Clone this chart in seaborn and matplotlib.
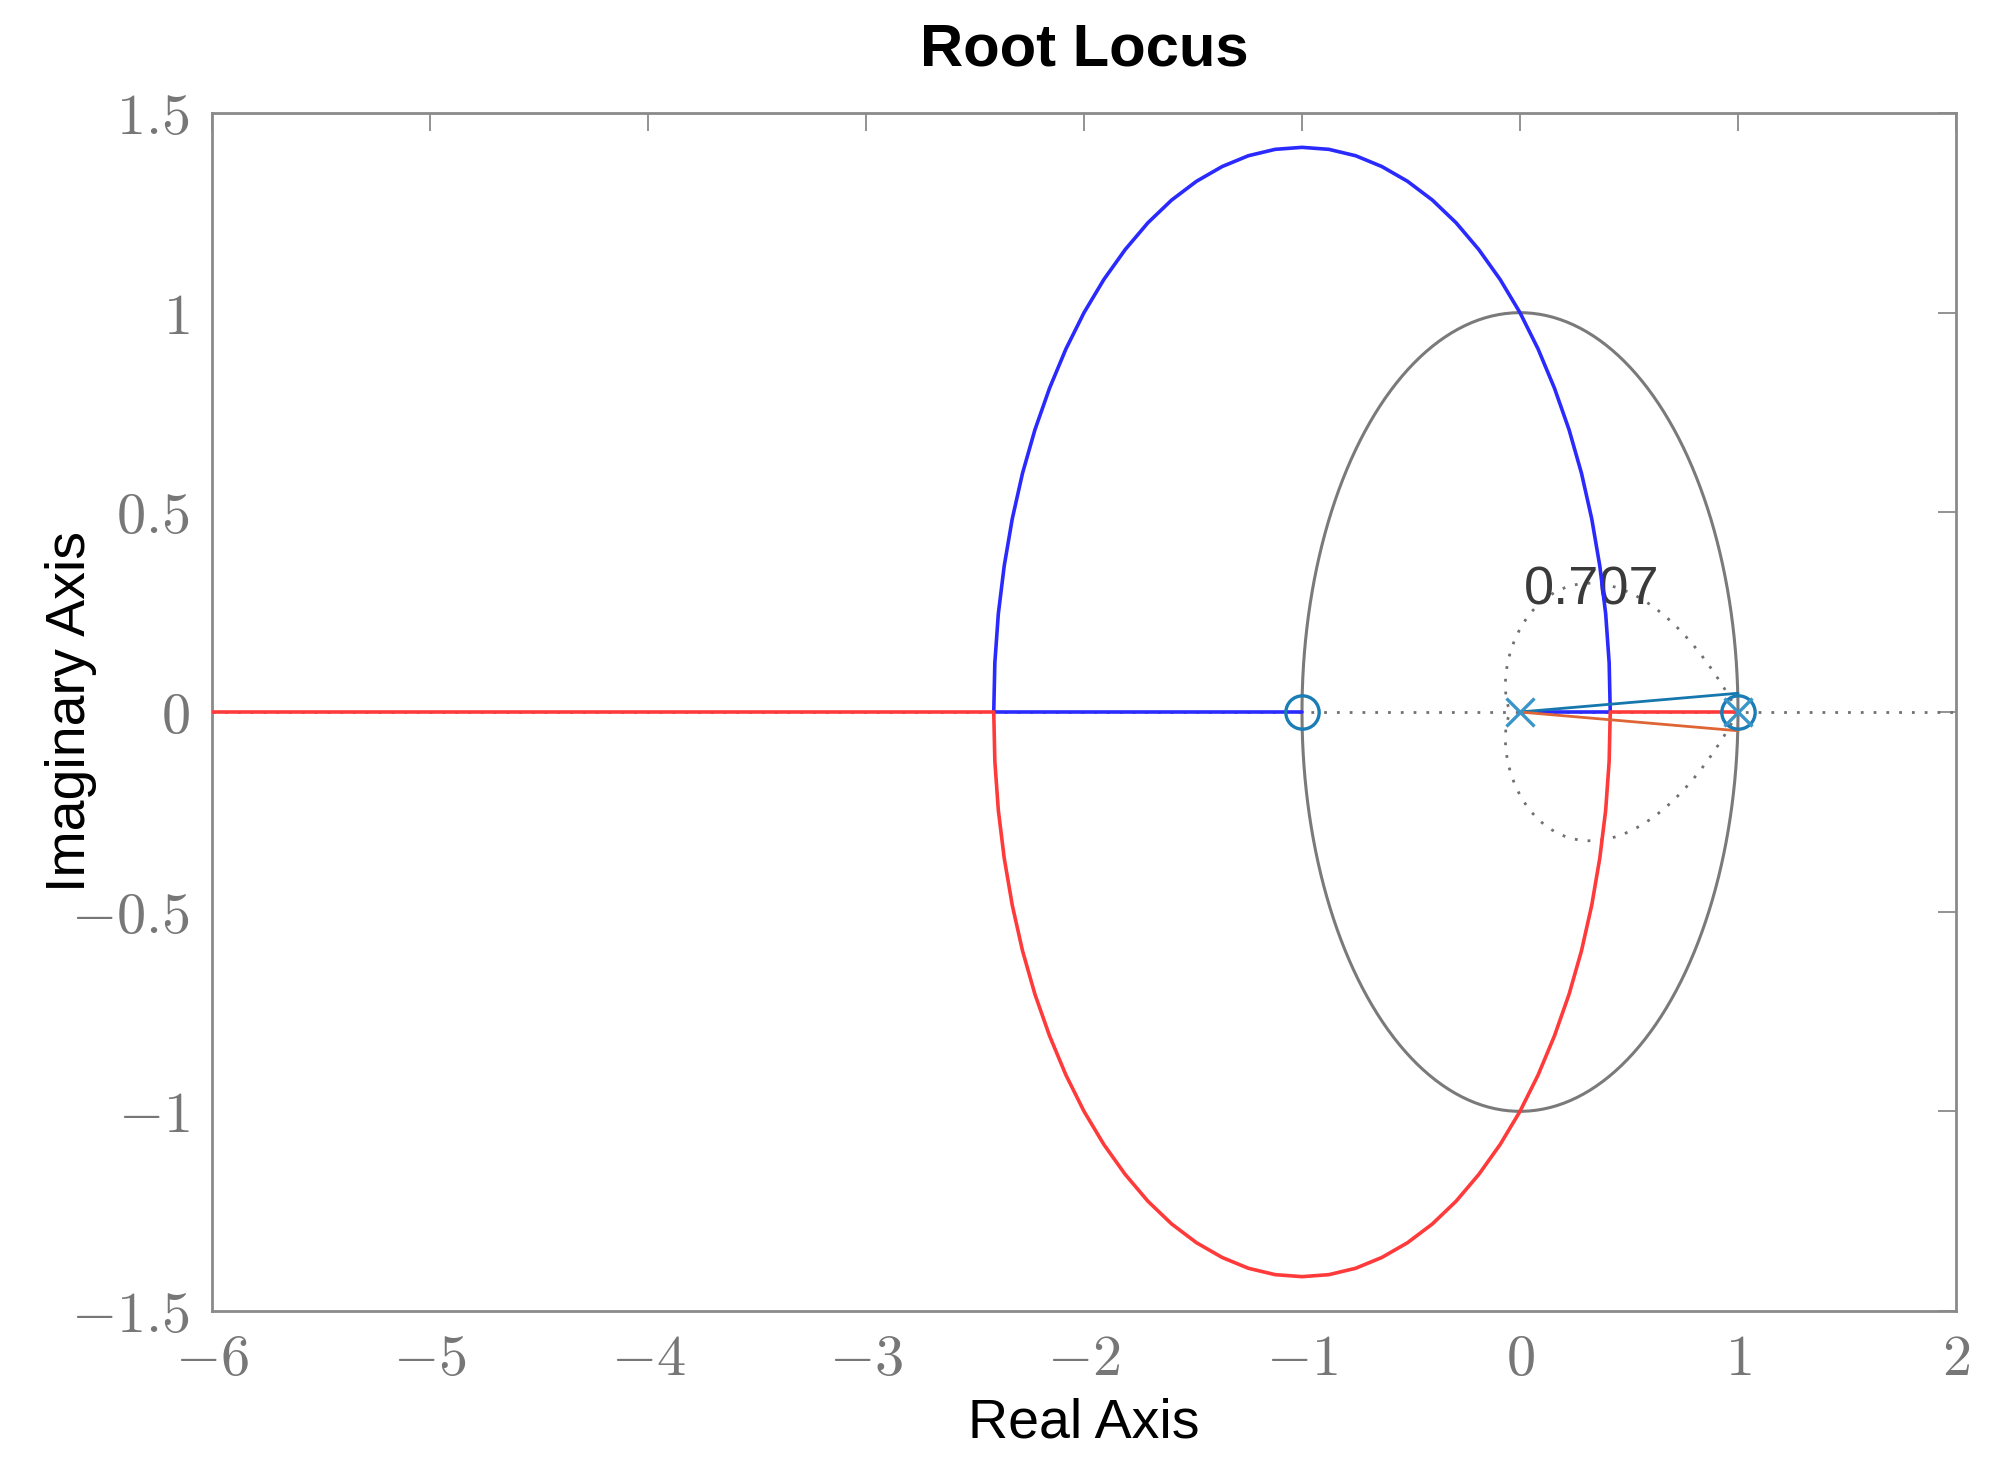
import numpy as np
import matplotlib
matplotlib.use('Agg')
import matplotlib.pyplot as plt
import seaborn as sns

# --- data ---
# upper half of the locus circle (blue), lower half is the mirror (red)
arc_x = [0.414, 0.409, 0.393, 0.366, 0.329, 0.282, 0.225, 0.158, 0.083, 0.000,
         -0.091, -0.189, -0.293, -0.402, -0.516, -0.634, -0.754, -0.877, -1.000,
         -1.123, -1.246, -1.366, -1.484, -1.598, -1.707, -1.811, -1.909, -2.000,
         -2.083, -2.158, -2.225, -2.282, -2.329, -2.366, -2.393, -2.409, -2.414]
arc_y = [0.000, 0.123, 0.246, 0.366, 0.484, 0.598, 0.707, 0.811, 0.909, 1.000,
         1.083, 1.158, 1.225, 1.282, 1.329, 1.366, 1.393, 1.409, 1.414,
         1.409, 1.393, 1.366, 1.329, 1.282, 1.225, 1.158, 1.083, 1.000,
         0.909, 0.811, 0.707, 0.598, 0.484, 0.366, 0.246, 0.123, 0.000]

blue_x = [0.0] + arc_x + [-1.0]
blue_y = [0.0] + arc_y + [0.0]
red_x = [1.0] + arc_x + [-6.0]
red_y = [0.0] + [-v for v in arc_y] + [0.0]

# the two short lines from the origin towards z = 1
teal_x = [0.0, 1.0]
teal_y = [0.0, 0.047]
orange_x = [0.0, 1.0]
orange_y = [0.0, -0.047]

poles = [0.0, 1.0]
zeros = [-1.0, 1.0]

zeta = 0.707
zeta_label = '0.707'

xticks = [-6, -5, -4, -3, -2, -1, 0, 1, 2]
yticks = [-1.5, -1, -0.5, 0, 0.5, 1, 1.5]
xtick_labels = ['$-6$', '$-5$', '$-4$', '$-3$', '$-2$', '$-1$', '$0$', '$1$', '$2$']
ytick_labels = ['$-1.5$', '$-1$', '$-0.5$', '$0$', '$0.5$', '$1$', '$1.5$']

# --- style ---
sns.set_style("white")
plt.rcParams['font.family'] = ['Liberation Sans', 'DejaVu Sans']
plt.rcParams['mathtext.fontset'] = 'cm'
plt.rcParams['text.color'] = 'black'
plt.rcParams['axes.labelcolor'] = 'black'

GRID = '#808080'
MCOL = '#1a7db5'
DOTS = (0, (1.0, 3.6))

fig = plt.figure(figsize=(10.03, 7.405), dpi=200)
ax = fig.add_axes([212 / 2006, 1 - 1311 / 1481, 1744 / 2006, 1198 / 1481])

# z-plane grid: unit circle, real axis, damping curve
th = np.linspace(0, 2 * np.pi, 400)
ax.plot(np.cos(th), np.sin(th), color='#7a7a7a', lw=1.1, zorder=1)
ax.plot([-6, 2], [0, 0], color='#707070', lw=1.0, linestyle=DOTS, zorder=1)
t = np.linspace(0, np.pi, 300)
r = np.exp(-t * zeta / np.sqrt(1 - zeta ** 2))
ax.plot(r * np.cos(t), r * np.sin(t), color='#707070', lw=1.0, linestyle=DOTS, zorder=1)
ax.plot(r * np.cos(t), -r * np.sin(t), color='#707070', lw=1.0, linestyle=DOTS, zorder=1)
ax.text(0.02, 0.27, zeta_label, fontsize=19.5, color='#3a3a3a', ha='left', va='baseline', zorder=2)

# locus branches
sns.lineplot(x=blue_x, y=blue_y, sort=False, estimator=None, color='#2a2aff', lw=1.3, ax=ax, zorder=3)
sns.lineplot(x=red_x, y=red_y, sort=False, estimator=None, color='#ff3a3a', lw=1.3, ax=ax, zorder=3)
sns.lineplot(x=teal_x, y=teal_y, sort=False, estimator=None, color='#1577ad', lw=1.0, ax=ax, zorder=4)
sns.lineplot(x=orange_x, y=orange_y, sort=False, estimator=None, color='#df6535', lw=1.0, ax=ax, zorder=4)

# poles and zeros
ax.plot(zeros, [0] * len(zeros), 'o', ms=12, mfc='none', mec=MCOL, mew=1.2, zorder=5)
ax.plot(poles, [0] * len(poles), 'x', ms=10, mec='#3a95c8', mew=1.2, zorder=5)

ax.set_xlim(-6, 2)
ax.set_ylim(-1.5, 1.5)
ax.set_xticks(xticks)
ax.set_yticks(yticks)
ax.set_xticklabels(xtick_labels)
ax.set_yticklabels(ytick_labels)
ax.tick_params(direction='in', length=6.5, width=0.6, color=GRID, labelcolor='#777777',
               labelsize=21, top=True, right=True, pad=8)
for s in ax.spines.values():
    s.set_color('#8a8a8a')
    s.set_linewidth(1.0)

ax.set_title('Root Locus', fontsize=21.5, fontweight='bold', pad=17)
ax.set_xlabel('Real Axis', fontsize=20)
ax.set_ylabel('Imaginary Axis', fontsize=20)
ax.xaxis.set_label_coords(0.5, -0.072)
ax.yaxis.set_label_coords(-0.066, 0.5)

plt.savefig('out.png', dpi=200)
plt.close()
